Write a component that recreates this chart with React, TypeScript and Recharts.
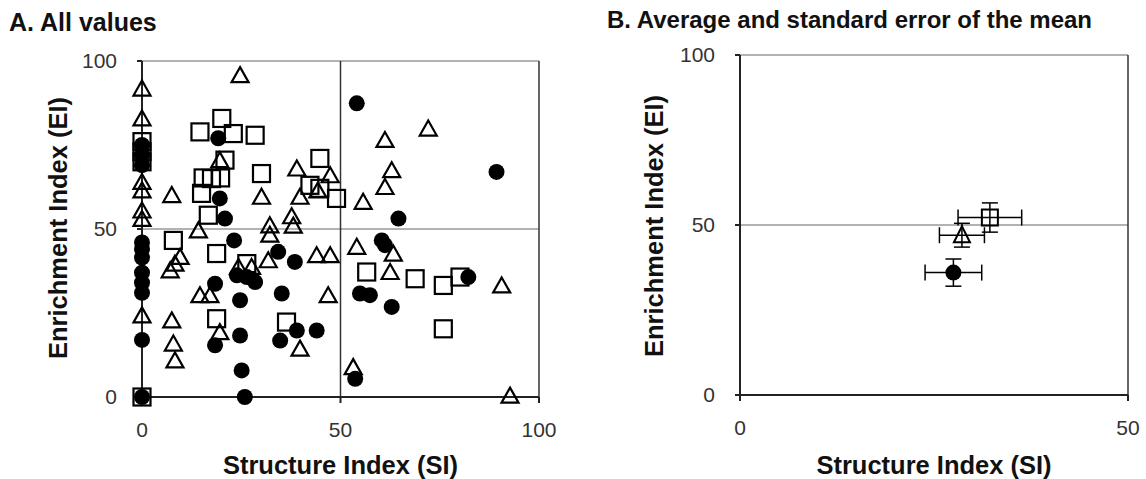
import React from 'react';
import { ScatterChart, Scatter, XAxis, YAxis, ReferenceLine, ErrorBar } from 'recharts';

// ---------- Panel A: all values ----------
const circleSI = [0, 0, 0, 0, 0, 0, 0, 0, 0, 0, 0, 19.2, 19.6, 20.9, 23.2, 23.9, 26.4, 28.5, 18.4, 24.7, 34.3, 38.5, 35.2, 24.7, 18.4, 34.8, 39, 44, 25.1, 25.9, 54.1, 89.3, 64.6, 60.4, 61.2, 82.2, 54.9, 57.4, 62.9, 53.7];
const circleEI = [75, 72, 69, 46, 44, 41.5, 37, 34, 31, 17, 0, 77, 59.1, 53.1, 46.6, 36.2, 35.7, 34.2, 33.7, 28.8, 43.2, 40.2, 30.8, 18.3, 15.4, 16.8, 19.8, 19.8, 7.9, 0, 87.4, 67, 53.1, 46.6, 45.2, 35.7, 30.8, 30.3, 26.8, 5.4];

const triangleSI = [0, 0, 0, 0, 0, 0, 0, 24.7, 19.6, 30.1, 7.5, 39, 47.4, 44.3, 39.8, 14.2, 32.2, 32.2, 37.7, 38.1, 9.6, 8.3, 7.1, 24.3, 27.6, 31.8, 44, 47.4, 14.6, 17.1, 46.9, 7.5, 19.6, 7.9, 8.3, 39.8, 72.1, 61.2, 62.9, 61.2, 55.7, 54.1, 63.3, 62.5, 90.6, 53.2, 92.7];
const triangleEI = [91.8, 82.9, 64, 61.5, 55.5, 53, 24.3, 95.8, 70.5, 59.6, 60.1, 68, 66, 61.5, 59.6, 49.6, 51.1, 48.3, 53.8, 51, 41.7, 39.7, 37.7, 38.7, 38.7, 40.7, 42.2, 42.2, 30.3, 30.3, 30.3, 22.8, 19.3, 15.9, 10.9, 14.4, 79.9, 76.5, 67.5, 62.5, 58.1, 44.7, 42.7, 37.2, 33.2, 8.9, 0.4];

const squareSI = [0, 0, 0, 0, 14.6, 20.1, 23, 28.5, 20.9, 15.4, 17.5, 19.8, 15, 16.7, 30.1, 44.8, 42.3, 44.8, 49, 7.9, 18.8, 26.4, 18.8, 36.4, 56.6, 68.8, 75.9, 80.1, 75.9];
const squareEI = [76, 73, 70, 0, 78.9, 82.9, 78.4, 77.9, 70.5, 65.2, 65, 65.2, 60.6, 54.1, 66.5, 71, 63, 62.1, 59.1, 46.6, 42.7, 39.7, 23.3, 22.3, 37.2, 35.2, 33.2, 35.7, 20.3];

// ---------- Panel B: mean and SEM ----------
const meanGroups = ['circle', 'triangle', 'square'];
const meanSI = [27.5, 28.6, 32.2];
const meanEI = [36.0, 47.0, 52.2];
const semSI = [3.65, 2.9, 4.1];
const semEI = [4.0, 3.5, 4.3];

const ticksA = [0, 50, 100];
const ticksBx = [0, 50];
const ticksBy = [0, 50, 100];

const zip = (xs: number[], ys: number[]) => xs.map((x, i) => ({ x, y: ys[i] }));
const circles = zip(circleSI, circleEI);
const triangles = zip(triangleSI, triangleEI);
const squares = zip(squareSI, squareEI);
const means = meanGroups.map((g, i) => ({ g, x: meanSI[i], y: meanEI[i], xe: semSI[i], ye: semEI[i] }));

const FONT = '"Liberation Sans", Arial, Helvetica, sans-serif';

const DotShape = (p: any) => <circle cx={p.cx} cy={p.cy} r={8} fill="#000" />;
const TriShape = (p: any) => (
  <path
    d={`M${p.cx},${p.cy - 8} L${p.cx + 8.5},${p.cy + 7} L${p.cx - 8.5},${p.cy + 7} Z`}
    fill="none"
    stroke="#000"
    strokeWidth={2.2}
  />
);
const SqShape = (p: any) => (
  <rect x={p.cx - 8.5} y={p.cy - 8.5} width={17} height={17} fill="none" stroke="#000" strokeWidth={2.2} />
);
const MeanShape = (p: any) => {
  const g = p.payload?.g;
  if (g === 'circle') return <circle cx={p.cx} cy={p.cy} r={8} fill="#000" />;
  if (g === 'triangle')
    return (
      <path
        d={`M${p.cx},${p.cy - 9} L${p.cx + 8},${p.cy + 7} L${p.cx - 8},${p.cy + 7} Z`}
        fill="none"
        stroke="#000"
        strokeWidth={2}
      />
    );
  return <rect x={p.cx - 8} y={p.cy - 8} width={16} height={16} fill="none" stroke="#000" strokeWidth={2} />;
};

const tickStyle = { fill: '#333', fontSize: 21, fontFamily: FONT };
const axisStroke = { stroke: '#222', strokeWidth: 2 };

export default function App() {
  return (
    <div style={{ position: 'absolute', left: 0, top: 0, width: 1146, height: 479, background: '#fff', overflow: 'hidden' }}>
      <div style={{ position: 'absolute', left: 0, top: 0 }}>
        <ScatterChart width={600} height={479} margin={{ top: 61, right: 61, bottom: 52, left: 82 }}>
          <XAxis
            type="number"
            dataKey="x"
            domain={[0, 100]}
            ticks={ticksA}
            height={30}
            tickSize={6}
            tickMargin={19}
            axisLine={axisStroke}
            tickLine={axisStroke}
            tick={tickStyle}
          />
          <YAxis
            type="number"
            dataKey="y"
            domain={[0, 100]}
            ticks={ticksA}
            width={60}
            tickSize={5}
            tickMargin={20}
            axisLine={axisStroke}
            tickLine={axisStroke}
            tick={tickStyle}
          />
          <ReferenceLine y={50} stroke="#999" strokeWidth={1.5} />
          <ReferenceLine y={100} stroke="#999" strokeWidth={1.5} />
          <ReferenceLine x={50} stroke="#333" strokeWidth={1.5} />
          <ReferenceLine x={100} stroke="#333" strokeWidth={1.5} />
          <Scatter data={squares} shape={SqShape} isAnimationActive={false} />
          <Scatter data={circles} shape={DotShape} isAnimationActive={false} />
          <Scatter data={triangles} shape={TriShape} isAnimationActive={false} />
        </ScatterChart>
      </div>
      <div style={{ position: 'absolute', left: 600, top: 0 }}>
        <ScatterChart width={546} height={479} margin={{ top: 55, right: 18, bottom: 54, left: 80 }}>
          <XAxis
            type="number"
            dataKey="x"
            domain={[0, 50]}
            ticks={ticksBx}
            height={30}
            tickSize={6}
            tickMargin={19}
            axisLine={axisStroke}
            tickLine={axisStroke}
            tick={tickStyle}
          />
          <YAxis
            type="number"
            dataKey="y"
            domain={[0, 100]}
            ticks={ticksBy}
            width={60}
            tickSize={5}
            tickMargin={20}
            axisLine={axisStroke}
            tickLine={axisStroke}
            tick={tickStyle}
          />
          <ReferenceLine y={50} stroke="#999" strokeWidth={1.5} />
          <ReferenceLine y={100} stroke="#999" strokeWidth={1.5} />
          <ReferenceLine x={50} stroke="#333" strokeWidth={1.5} />
          <Scatter data={means} shape={MeanShape} isAnimationActive={false}>
            <ErrorBar dataKey="xe" direction="x" width={8} stroke="#000" strokeWidth={1.5} isAnimationActive={false} />
            <ErrorBar dataKey="ye" direction="y" width={8} stroke="#000" strokeWidth={1.5} isAnimationActive={false} />
          </Scatter>
        </ScatterChart>
      </div>
      <svg width={1146} height={479} style={{ position: 'absolute', left: 0, top: 0, pointerEvents: 'none' }}>
        <g fontFamily={FONT} fontWeight="bold" fill="#111">
          <text x={9} y={31} fontSize={25}>A. All values</text>
          <text x={607} y={28} fontSize={24}>B. Average and standard error of the mean</text>
          <text x={340.5} y={474} fontSize={25.5} textAnchor="middle">Structure Index (SI)</text>
          <text x={934} y={474} fontSize={25.5} textAnchor="middle">Structure Index (SI)</text>
          <text transform="translate(67,228) rotate(-90)" fontSize={25.5} textAnchor="middle">Enrichment Index (EI)</text>
          <text transform="translate(663,226) rotate(-90)" fontSize={25.5} textAnchor="middle">Enrichment Index (EI)</text>
        </g>
      </svg>
    </div>
  );
}
